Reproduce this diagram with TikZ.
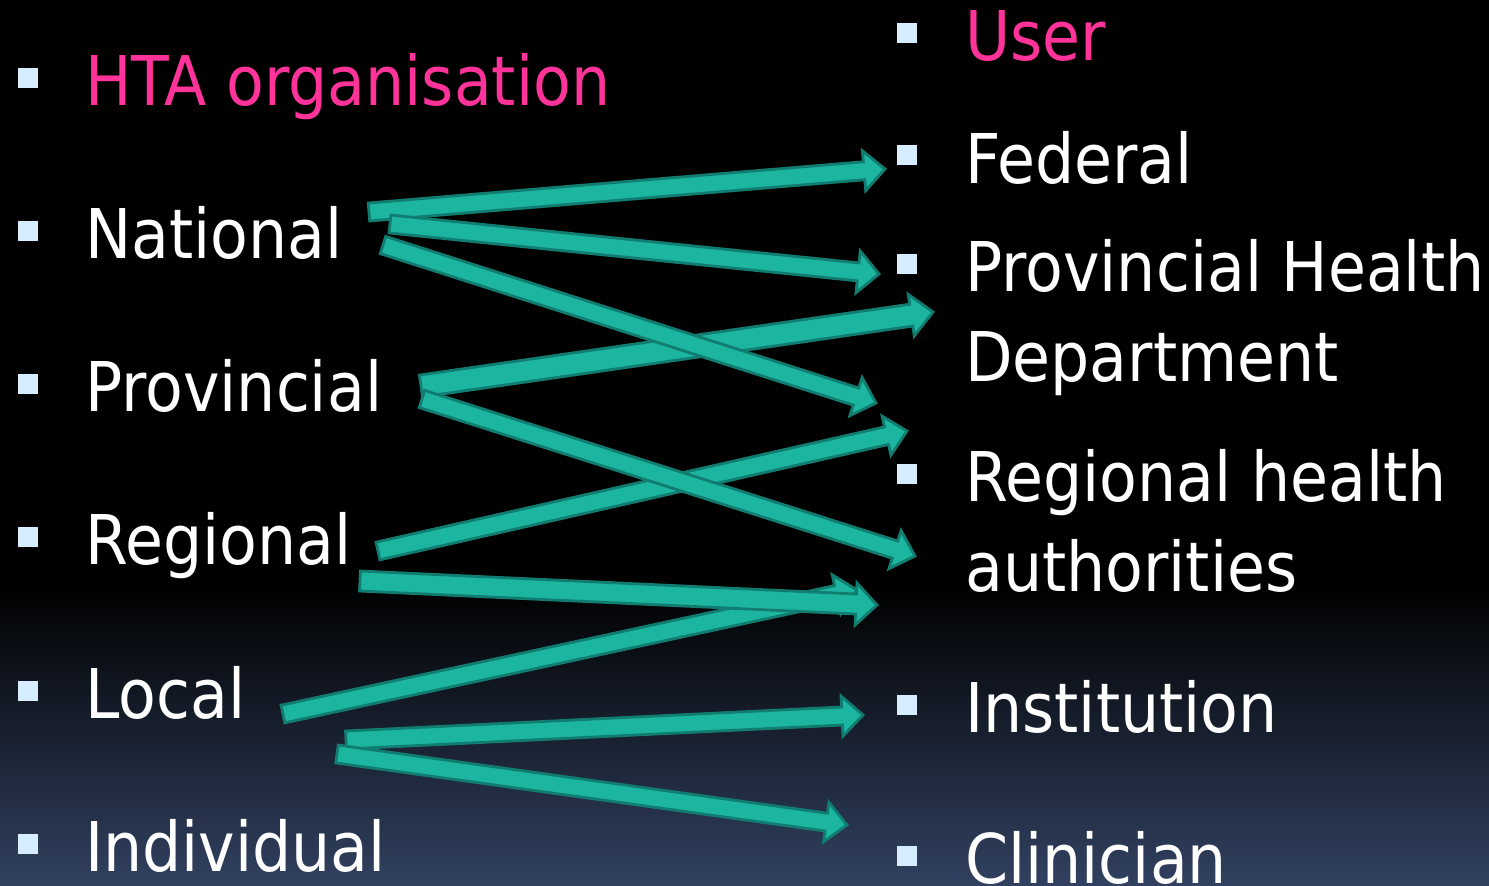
\documentclass[tikz,border=0pt]{standalone}
\usepackage{fontspec}
\setmainfont{DejaVu Sans}[FakeStretch=0.9]
\usetikzlibrary{calc}
\definecolor{pinkt}{RGB}{255,51,153}
\definecolor{bul}{RGB}{214,236,255}
\definecolor{arrfill}{RGB}{27,181,160}
\definecolor{arrline}{RGB}{17,125,112}
\definecolor{bgbot}{RGB}{49,65,96}
\tikzset{
  lbl/.style={anchor=base west, inner sep=0pt, text=white, align=left,
    font=\fontsize{68.6pt}{90pt}\selectfont},
  hl/.style={text=pinkt},
  bulletsq/.style={fill=bul, draw=none, minimum size=20pt, inner sep=0pt},
  blockarr/.style={fill=arrfill, draw=arrline, line width=2.8pt, line join=miter},
}
% #1 tail, #2 tip, #3 shaft half width, #4 head half width, #5 head length
\newcommand\blockarrow[5]{%
  \path ($(#2)!#5!(#1)$) coordinate (ba-c);
  \filldraw[blockarr] ($(#1)!#3!90:(#2)$) -- ($(ba-c)!#3!90:(#2)$) -- ($(ba-c)!#4!90:(#2)$)
    -- (#2) -- ($(ba-c)!#4!-90:(#2)$) -- ($(ba-c)!#3!-90:(#2)$) -- ($(#1)!#3!-90:(#2)$) -- cycle;
}
\begin{document}
\begin{tikzpicture}[x=1pt,y=-1pt]
\useasboundingbox (0,0) rectangle (1489,886);
\fill[black] (0,0) rectangle (1489,886);
\shade[top color=black, bottom color=bgbot] (0,585) rectangle (1489,886);

% left column
\node[lbl,hl] (hta) at (85,105) {HTA organisation};
\node[lbl] (nat) at (85,258) {National};
\node[lbl] (prov) at (85,411) {Provincial};
\node[lbl] (reg) at (85,564) {Regional};
\node[lbl] (loc) at (85,718) {Local};
\node[lbl] (ind) at (85,871) {Individual};
\foreach \y in {78,231,384,537,691,844} \node[bulletsq] at (28,\y) {};

% right column
\node[lbl,hl] (user) at (965,60) {User};
\node[lbl] (fed) at (965,183) {Federal};
\node[lbl] (phd) at (965,381) {Provincial Health\\Department};
\node[lbl] (rha) at (965,591) {Regional health\\authorities};
\node[lbl] (inst) at (965,732) {Institution};
\node[lbl] (clin) at (965,883) {Clinician};
\foreach \y in {33,155,264,474,705,856} \node[bulletsq] at (907,\y) {};

% arrow end points
\coordinate (t1) at (369,212); \coordinate (h1) at (885,169);
\coordinate (t2) at (390,224); \coordinate (h2) at (879,274);
\coordinate (t3) at (383,245); \coordinate (h3) at (876,403);
\coordinate (t4) at (421,386); \coordinate (h4) at (933,312);
\coordinate (t5) at (422,399); \coordinate (h5) at (915,556);
\coordinate (t6) at (378,551); \coordinate (h6) at (907,431);
\coordinate (t7) at (360,581); \coordinate (h7) at (877,605);
\coordinate (t8) at (283,714); \coordinate (h8) at (857,590);
\coordinate (t9) at (346,740); \coordinate (h9) at (863,715);
\coordinate (t10) at (337,754); \coordinate (h10) at (847,825);

\blockarrow{t4}{h4}{11pt}{21pt}{22pt}
\blockarrow{t6}{h6}{9pt}{20pt}{21pt}
\blockarrow{t8}{h8}{9pt}{20pt}{21pt}
\blockarrow{t1}{h1}{9pt}{20pt}{21pt}
\blockarrow{t2}{h2}{9pt}{21pt}{21pt}
\blockarrow{t3}{h3}{9pt}{20pt}{21pt}
\blockarrow{t5}{h5}{9pt}{20pt}{21pt}
\blockarrow{t7}{h7}{10pt}{21pt}{21pt}
\blockarrow{t9}{h9}{9pt}{20pt}{21pt}
\blockarrow{t10}{h10}{9pt}{20pt}{21pt}
\end{tikzpicture}
\end{document}
